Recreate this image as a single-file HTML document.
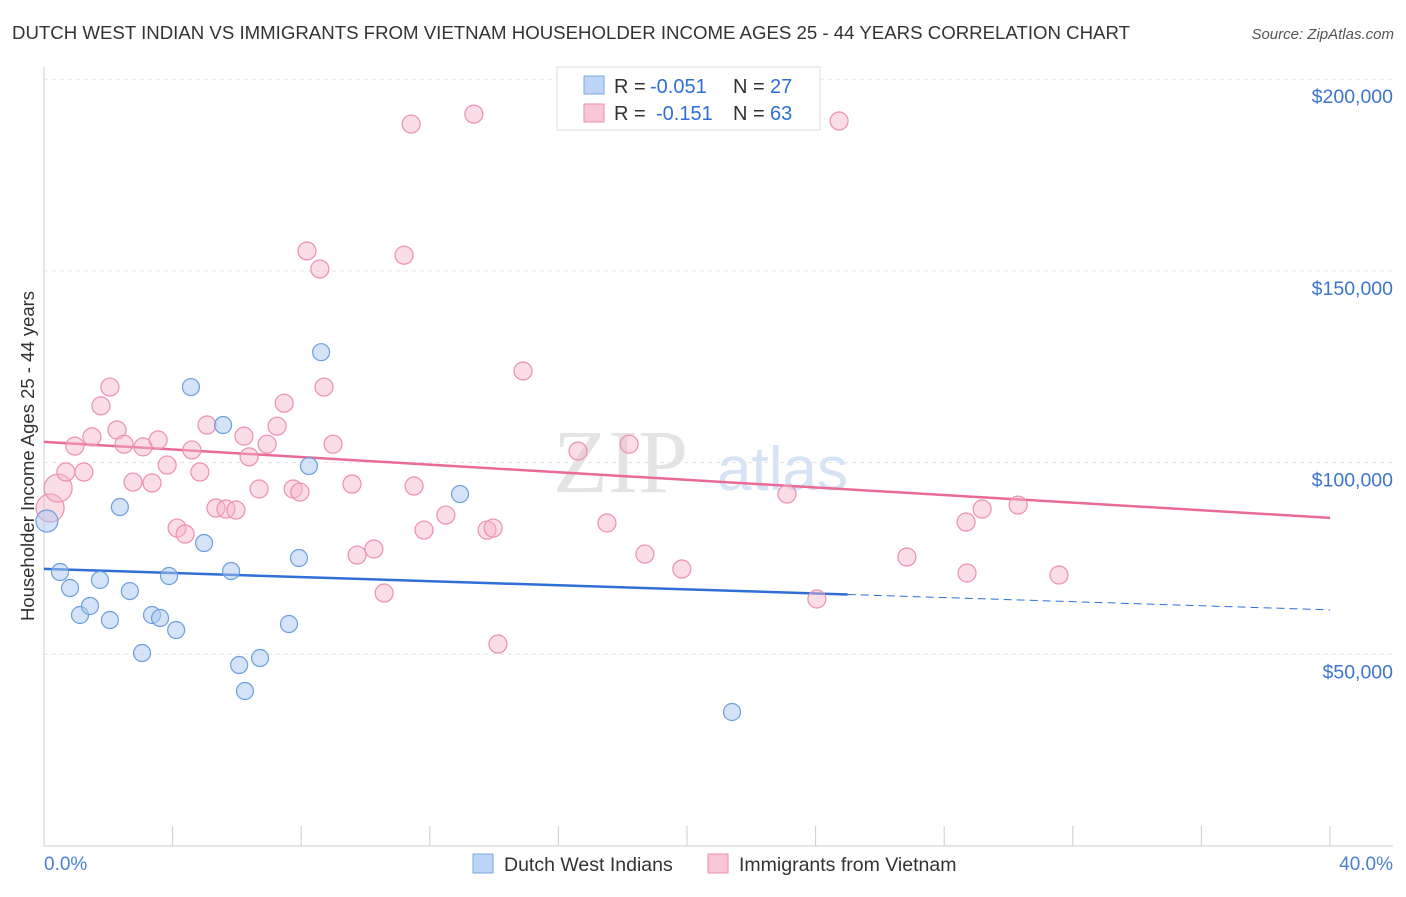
<!DOCTYPE html>
<html><head><meta charset="utf-8"><style>
body{margin:0;background:#fff;font-family:"Liberation Sans",sans-serif;}
</style></head><body>
<svg id="c" width="1406" height="892" xmlns="http://www.w3.org/2000/svg" style="font-family:'Liberation Sans',sans-serif">
<text x="12" y="39" font-size="18" fill="#333" textLength="1118" lengthAdjust="spacingAndGlyphs">DUTCH WEST INDIAN VS IMMIGRANTS FROM VIETNAM HOUSEHOLDER INCOME AGES 25 - 44 YEARS CORRELATION CHART</text>
<text x="1394" y="39" font-size="15" fill="#555" text-anchor="end" font-style="italic">Source: ZipAtlas.com</text>
<text x="553" y="492" font-size="90" fill="#e4e4e4" font-family="Liberation Serif">ZIP</text>
<text x="717" y="490" font-size="62" fill="#d6e3f5">atlas</text>
<g id="grid"></g><g id="trend"></g><g id="pts"></g>
<text transform="translate(34,456) rotate(-90)" font-size="18.5" fill="#333" text-anchor="middle">Householder Income Ages 25 - 44 years</text>
<text x="44" y="870" font-size="19" fill="#4a7fd4">0.0%</text>
<text x="1393" y="870" font-size="19" fill="#4a7fd4" text-anchor="end">40.0%</text>
<g>
<rect x="557" y="67" width="263" height="63" fill="#fff" stroke="#ddd"/>
<rect x="584" y="76" width="20" height="18" fill="#bcd4f5" stroke="#7aaae0"/>
<rect x="584" y="104" width="20" height="18" fill="#f9c6d6" stroke="#ee8fae"/>
<text x="614" y="93" font-size="20" fill="#333">R =</text>
<text x="650" y="93" font-size="20" fill="#2f6fd6">-0.051</text>
<text x="733" y="93" font-size="20" fill="#333">N =</text>
<text x="770" y="93" font-size="20" fill="#2f6fd6">27</text>
<text x="614" y="120" font-size="20" fill="#333">R =</text>
<text x="656" y="120" font-size="20" fill="#2f6fd6">-0.151</text>
<text x="733" y="120" font-size="20" fill="#333">N =</text>
<text x="770" y="120" font-size="20" fill="#2f6fd6">63</text>
</g>
<g>
<rect x="473" y="854" width="20" height="19" fill="#bcd4f5" stroke="#7aaae0"/>
<text x="504" y="871" font-size="19.5" fill="#333">Dutch West Indians</text>
<rect x="708" y="854" width="20" height="19" fill="#f9c6d6" stroke="#ee8fae"/>
<text x="739" y="871" font-size="19.5" fill="#333">Immigrants from Vietnam</text>
</g>
</svg>
<script>
const yTicks=[50000,100000,150000,200000];
const yTickLabels=["$50,000","$100,000","$150,000","$200,000"];
const xTicks=[0,4,8,12,16,20,24,28,32,36,40];
const blueX=[0.09,0.50,0.81,1.12,1.43,1.74,2.05,2.36,2.67,3.05,3.36,3.61,3.89,4.11,4.57,4.98,5.57,5.82,6.07,6.25,6.72,7.62,7.93,8.24,8.62,12.94,21.40];
const blueY=[84760,71460,67290,60250,62600,69380,58940,88410,66500,50330,60250,59460,70420,56330,119700,79020,109800,71720,47200,40420,49030,57900,75110,99100,128800,91800,34950];
const pinkX=[0.19,0.44,0.68,0.96,1.24,1.49,1.77,2.05,2.27,2.49,2.77,3.08,3.36,3.55,3.83,4.14,4.39,4.60,4.85,5.07,5.35,5.66,5.97,6.22,6.38,6.69,6.94,7.25,7.47,7.75,7.96,8.18,8.58,8.71,8.99,9.58,9.74,10.26,10.58,11.20,11.42,11.51,11.82,12.50,13.37,13.78,13.97,14.12,14.90,16.61,17.51,18.20,18.69,19.84,23.11,24.04,24.73,26.84,28.68,28.71,29.18,30.30,31.57];
const pinkY=[88150,93360,97540,104300,97540,106700,114800,119700,108500,104800,94930,104100,94670,105900,99360,82930,81370,103300,97540,109800,88150,87890,87630,106900,101500,93110,104800,109500,115500,93110,92320,155200,150500,119700,104800,94410,75890,77460,65980,154100,188300,93890,82410,86320,190900,82410,82930,52680,123900,103000,84240,104800,76150,72240,91800,64420,189100,75370,84500,71200,87890,88930,70680];
const blueTrend=[72280,61590];
const pinkTrend=[105400,85590];
const blueSolidEnd=25;
const NS="http://www.w3.org/2000/svg";
const X=v=>44+v/40*1286, Y=v=>846-v/50000*191.7;
function mk(tag,a,p){const e=document.createElementNS(NS,tag);for(const k in a)e.setAttribute(k,a[k]);p.appendChild(e);return e;}
const g=document.getElementById('grid');
let ax=mk('line',{x1:44,y1:67,x2:44,y2:846,stroke:'#ccc'},g);

let bx=mk('line',{x1:44,y1:846,x2:1393,y2:846,stroke:'#ccc'},g);

yTicks.forEach((t,i)=>{
 const l=mk('line',{x1:44,x2:1393,y1:Y(t),y2:Y(t),stroke:'#e3e3e3','stroke-dasharray':'4,4'},g);
 
 const tx=mk('text',{x:1393,y:Y(t)+24,'font-size':19.5,fill:'#3c74d2','text-anchor':'end'},g);tx.textContent=yTickLabels[i];
 
});
xTicks.forEach(t=>{const l=mk('line',{x1:X(t),x2:X(t),y1:826,y2:846,stroke:'#ccc'},g);
 });
const tr=document.getElementById('trend');
const T=(a,x)=>a[0]+(a[1]-a[0])*x/40;
let b1=mk('line',{x1:X(0),y1:Y(T(blueTrend,0)),x2:X(blueSolidEnd),y2:Y(T(blueTrend,blueSolidEnd)),stroke:'#2f6fd6','stroke-width':2.5},tr);

let b2=mk('line',{x1:X(blueSolidEnd),y1:Y(T(blueTrend,blueSolidEnd)),x2:X(40),y2:Y(T(blueTrend,40)),stroke:'#2f6fd6','stroke-width':1,'stroke-dasharray':'8,5'},tr);

let p1=mk('line',{x1:X(0),y1:Y(T(pinkTrend,0)),x2:X(40),y2:Y(T(pinkTrend,40)),stroke:'#e86a95','stroke-width':2.5},tr);

const pts=document.getElementById('pts');
pinkX.forEach((x,i)=>{const c=mk('circle',{cx:X(x),cy:Y(pinkY[i]),r:i<2?14:9,fill:'rgba(247,180,202,0.45)',stroke:'#ee8fae','stroke-width':1.2},pts);
 });
blueX.forEach((x,i)=>{const c=mk('circle',{cx:X(x),cy:Y(blueY[i]),r:i==0?11:8.5,fill:'rgba(169,200,240,0.5)',stroke:'#6c9fdc','stroke-width':1.2},pts);
 });
</script>
</body></html>
